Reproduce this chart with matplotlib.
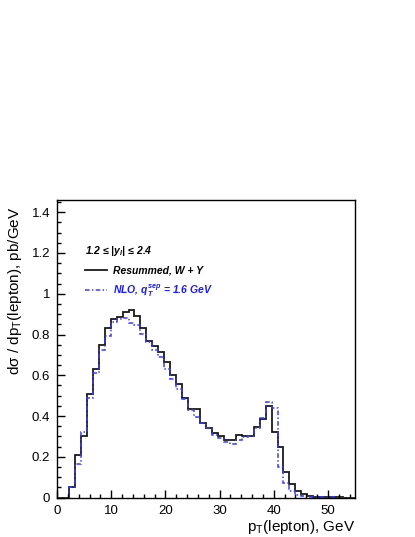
import numpy as np
import matplotlib
matplotlib.use("Agg")
import matplotlib.pyplot as plt
from matplotlib.ticker import MultipleLocator, FuncFormatter

plt.rcParams['font.family'] = ['Liberation Sans', 'DejaVu Sans']
plt.rcParams['mathtext.fontset'] = 'custom'
plt.rcParams['mathtext.rm'] = 'Liberation Sans'
plt.rcParams['mathtext.it'] = 'Liberation Sans:bold:italic'
plt.rcParams['mathtext.bf'] = 'Liberation Sans:bold'

# 50 bins over 0..55 GeV
bin_edges = np.linspace(0, 55, 51)
resummed = [0.0, 0.0, 0.05, 0.21, 0.30, 0.51, 0.63, 0.75, 0.83, 0.875,
            0.885, 0.91, 0.92, 0.89, 0.833, 0.77, 0.745, 0.715, 0.663, 0.60,
            0.555, 0.49, 0.433, 0.435, 0.367, 0.34, 0.318, 0.302, 0.282, 0.285,
            0.307, 0.302, 0.302, 0.345, 0.384, 0.449, 0.323, 0.246, 0.124, 0.065,
            0.034, 0.016, 0.008, 0.004, 0.003, 0.002, 0.001, 0.001, 0.0, 0.0]
nlo = [0.0, 0.0, 0.05, 0.165, 0.32, 0.487, 0.612, 0.724, 0.792, 0.862,
       0.875, 0.88, 0.859, 0.846, 0.805, 0.764, 0.724, 0.69, 0.63, 0.58,
       0.535, 0.483, 0.43, 0.394, 0.364, 0.34, 0.307, 0.294, 0.274, 0.261,
       0.282, 0.298, 0.30, 0.34, 0.389, 0.47, 0.438, 0.15, 0.07, 0.03,
       0.012, 0.006, 0.004, 0.003, 0.002, 0.001, 0.001, 0.0, 0.0, 0.0]
xticks = [0, 10, 20, 30, 40, 50]
yticks = [0, 0.2, 0.4, 0.6, 0.8, 1.0, 1.2, 1.4]

W, H = 415, 537
fig = plt.figure(figsize=(W/100, H/100), dpi=100)
L, R, T, B = 57, 355, 200, 497.6
ax = fig.add_axes([L/W, 1 - B/H, (R-L)/W, (B-T)/H])

ax.stairs(resummed, bin_edges, color='#1a1a1a', lw=1.3, label='Resummed, W + Y')
ax.stairs(nlo, bin_edges, color='#3a3aff', lw=1.1, linestyle=(0, (3, 1.5, 1, 1.5)),
          label='NLO, $q_T^{sep}$ = 1.6 GeV')

ax.set_xlim(0, 55)
ax.set_ylim(0, 1.46)
ax.set_xticks(xticks)
ax.set_yticks(yticks)
ax.xaxis.set_minor_locator(MultipleLocator(2))
ax.yaxis.set_minor_locator(MultipleLocator(0.05))
ax.yaxis.set_major_formatter(FuncFormatter(lambda v, p: f'{v:g}'))
ax.tick_params(which='both', direction='in', top=False, right=False, labelsize=9.5,
               width=1.0, color='black')
ax.tick_params(which='major', length=6, pad=5)
ax.tick_params(which='minor', length=3)
for s in ax.spines.values():
    s.set_linewidth(1.0)

fig.text(15/W, 1 - 375/H, 'dσ / dp$\\mathrm{_T}$(lepton), pb/GeV', rotation=90,
         ha='center', va='bottom', fontsize=11)
fig.text(R/W, 1 - 527/H, 'p$\\mathrm{_T}$(lepton), GeV', ha='right', va='center',
         fontsize=11)

ax.text((85-L)/(R-L), (B-251)/(B-T), '1.2 ≤ |$y_l$| ≤ 2.4', transform=ax.transAxes,
        ha='left', va='center', fontsize=7.5, fontweight='bold', fontstyle='italic')

leg = ax.legend(loc='upper left', bbox_to_anchor=((85-L)/(R-L), (B-266)/(B-T)),
                frameon=False, handlelength=2.1, handletextpad=0.6, labelspacing=0.6,
                borderaxespad=0, borderpad=0,
                prop={'size': 7.5, 'weight': 'bold', 'style': 'italic'})
leg.get_texts()[1].set_color('#1a1aff')

fig.savefig('out.png', dpi=100)
